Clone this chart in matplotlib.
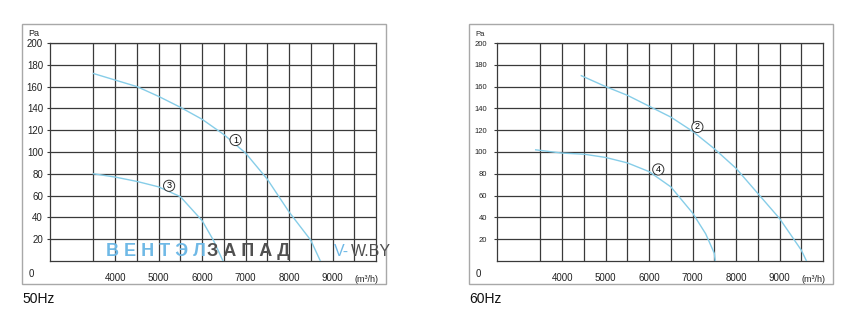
import matplotlib
matplotlib.use('Agg')
import matplotlib.pyplot as plt
from matplotlib.patches import Rectangle

plt.rcParams['font.family'] = ['Liberation Sans', 'DejaVu Sans']

W, H = 857, 326

# 50Hz curves: air flow (m3/h) vs pressure (Pa)
flow_1 = [3500, 4000, 4500, 5000, 5500, 6000, 6500, 7000, 7500, 8000, 8500, 8720]
pres_1 = [172, 166, 160, 151, 141, 130, 116, 99, 75, 45, 19, 0]
flow_3 = [3500, 4000, 4500, 5000, 5500, 6000, 6260, 6480]
pres_3 = [80, 77, 73, 68, 59, 37, 19, 0]

# 60Hz curves
flow_2 = [4440, 5000, 5500, 6000, 6500, 7000, 7500, 8000, 8500, 9000, 9500, 9620]
pres_2 = [170, 160, 152, 142, 132, 119, 103, 85, 62, 39, 10, 0]
flow_4 = [3390, 4000, 4500, 5000, 5500, 6000, 6500, 7000, 7300, 7500, 7520]
pres_4 = [102, 99, 98, 95, 90, 82, 68, 44, 25, 7, 0]

# circled curve numbers: (text, flow, pressure)
marks_50 = [('1', 6770, 111), ('3', 5240, 69)]
marks_60 = [('2', 7110, 123), ('4', 6210, 84)]

y_ticks = [20, 40, 60, 80, 100, 120, 140, 160, 180, 200]
x_ticks = [4000, 5000, 6000, 7000, 8000, 9000]
x_minor = [3500, 4500, 5500, 6500, 7500, 8500, 9500]

curve_color = '#86cde8'
grid_color = '#3a3a3a'


def px(x, y):
    return x / W, 1 - y / H


fig = plt.figure(figsize=(W / 100, H / 100), dpi=100)


def make_panel(left_px, curves, marks, ylab_size, ylab_pad, box_x0, box_x1):
    # outer gray frame
    x0, y0 = px(box_x0, 284)
    x1, y1 = px(box_x1, 24)
    fig.patches.append(Rectangle((x0, y0), x1 - x0, y1 - y0, transform=fig.transFigure,
                                 fill=False, ec='#a8a8a8', lw=1.0))

    l, b = px(left_px, 261)
    ax = fig.add_axes([l, b, 326 / W, 218 / H])
    ax.set_xlim(2500, 10000)
    ax.set_ylim(0, 200)
    ax.set_yticks(y_ticks)
    ax.set_xticks(x_ticks)
    ax.set_xticks(x_minor, minor=True)
    ax.grid(True, which='both', color=grid_color, lw=0.9)
    ax.set_axisbelow(True)
    for s in ax.spines.values():
        s.set_color(grid_color)
        s.set_linewidth(0.9)
    ax.tick_params(axis='y', length=2.5, width=0.8, color=grid_color, pad=ylab_pad,
                   labelsize=ylab_size, labelcolor='#222')
    ax.tick_params(axis='x', which='both', length=0, pad=8.5, labelsize=7, labelcolor='#222')

    for fx, fy in curves:
        ax.plot(fx, fy, color=curve_color, lw=1.0, zorder=3)
    for t, mx, my in marks:
        ax.text(mx, my, t, ha='center', va='center', fontsize=6.5, zorder=4,
                bbox=dict(boxstyle='circle,pad=0.12', fc='white', ec='#333', lw=0.7))

    ax.annotate('(m³/h)', xy=(9770, 0), xycoords='data', xytext=(0, -13),
                textcoords='offset points', ha='center', va='center', fontsize=6.5, color='#222')
    return ax


make_panel(50, [(flow_1, pres_1), (flow_3, pres_3)], marks_50, 7, 2.5, 22, 386)
make_panel(497, [(flow_2, pres_2), (flow_4, pres_4)], marks_60, 5.5, 4.5, 469, 833)

# axis corner texts
fig.text(*px(28, 34), 'Pa', fontsize=6.5, ha='left', va='center', color='#222')
fig.text(*px(31, 274), '0', fontsize=7, ha='center', va='center', color='#222')
fig.text(*px(475, 34), 'Pa', fontsize=5.5, ha='left', va='center', color='#222')
fig.text(*px(478, 274), '0', fontsize=7, ha='center', va='center', color='#222')

fig.text(*px(22, 299), '50Hz', fontsize=10, ha='left', va='center', color='#111')
fig.text(*px(469, 299), '60Hz', fontsize=10, ha='left', va='center', color='#111')

# watermark
blue = '#6fb9e6'
gray = '#505050'
fig.text(*px(106, 252), 'В Е Н Т Э Л', fontsize=13, fontweight='bold', color=blue,
         ha='left', va='center')
fig.text(*px(207, 252), 'З А П А Д', fontsize=13, fontweight='bold', color=gray,
         ha='left', va='center')
fig.text(*px(334, 252), 'V-', fontsize=11.5, color=blue, ha='left', va='center')
fig.text(*px(351, 252), 'W.BY', fontsize=11.5, color=gray, ha='left', va='center')

fig.savefig('out.png', dpi=100)
